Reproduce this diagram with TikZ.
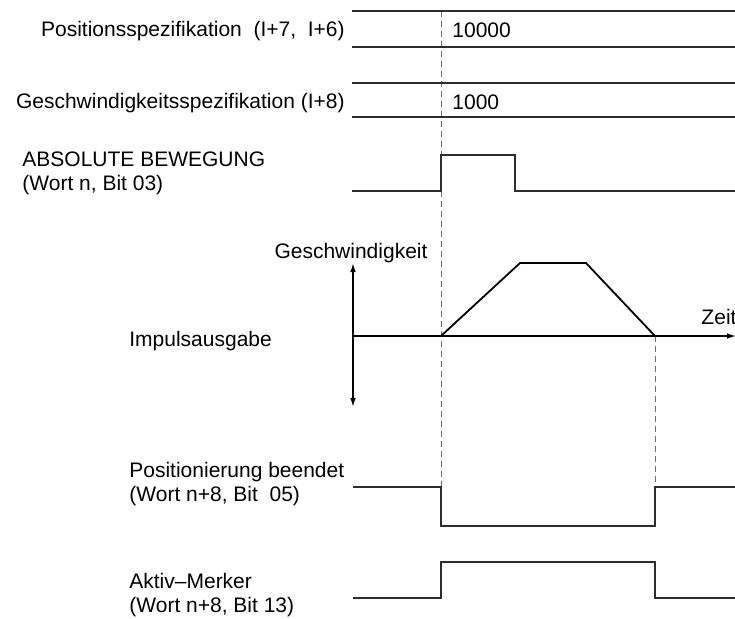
\documentclass[tikz,border=0pt]{standalone}
\usepackage{fontspec}
\setmainfont{Liberation Sans}
\usepackage{tikz}
\usetikzlibrary{arrows.meta, positioning}
\definecolor{sigline}{HTML}{2E2E2E}
\definecolor{guide}{HTML}{6E6E6E}

\begin{document}
\begin{tikzpicture}[
    x=0.5pt, y=-0.5pt,
    every node/.style={font=\fontsize{10.5}{12}\selectfont, inner sep=0pt},
    signal/.style={line width=0.8pt, color=sigline},
    guideline/.style={dash pattern=on 2.8pt off 2.2pt, line width=0.45pt, color=guide},
    axis/.style={line width=0.7pt, color=black},
    tip/.style={-{Latex[length=4.5pt,width=2.8pt]}},
    label/.style={anchor=west, align=left},
    spec/.style={anchor=east, align=right}
]
\useasboundingbox (0,0) rectangle (735,618);

% start and end of the move
\coordinate (start) at (441,0);
\coordinate (stop)  at (655,0);

% dashed time marks
\draw[guideline] (start |- 0,11)   -- (start |- 0,487);
\draw[guideline] (stop |- 0,336)   -- (stop |- 0,487);

% Data words (top)
\draw[signal] (352,11)  -- (735,11);
\draw[signal] (352,47)  -- (735,47);
\draw[signal] (352,83)  -- (735,83);
\draw[signal] (352,117) -- (735,117);
\node[spec] (posspec) at (345,31)
    {Positionsspezifikation\ \ (I+7,\ \ I+6)};
\node[spec] (velspec) at (345,103)
    {Geschwindigkeitsspezifikation (I+8)};
\node[anchor=west] (posval) at (452,30) {10000};
\node[anchor=west] (velval) at (452,102) {1000};

% Start bit
\node[label] (absmove) at (22,173) {ABSOLUTE BEWEGUNG\\(Wort n, Bit 03)};
\draw[signal] (352,191) -- (start |- 0,191) -- (start |- 0,155)
    -- (515,155) -- (515,191) -- (735,191);

% Pulse output (velocity profile)
\coordinate (origin) at (353,336);
\draw[axis, tip] (origin) -- (353,263);
\draw[axis, tip] (origin) -- (353,407);
\draw[axis, tip] (origin) -- (736,336);
\node (vel)  at (351,253) {Geschwindigkeit};
\node (time) at (719,317) {Zeit};
\node[label] (pulses) at (129,341) {Impulsausgabe};
\draw[signal, line width=0.9pt, color=black] (start |- origin) -- (520,263)
    -- (586,263) -- (stop |- origin);

% Positioning completed
\node[label] (posdone) at (129,484) {Positionierung beendet\\(Wort n+8, Bit\ \ 05)};
\draw[signal] (353,487) -- (start |- 0,487) -- (start |- 0,526)
    -- (stop |- 0,526) -- (stop |- 0,487) -- (735,487);

% Busy flag
\node[label] (busy) at (129,595) {Aktiv–Merker\\(Wort n+8, Bit 13)};
\draw[signal] (353,598) -- (start |- 0,598) -- (start |- 0,562)
    -- (stop |- 0,562) -- (stop |- 0,598) -- (735,598);

\end{tikzpicture}
\end{document}
